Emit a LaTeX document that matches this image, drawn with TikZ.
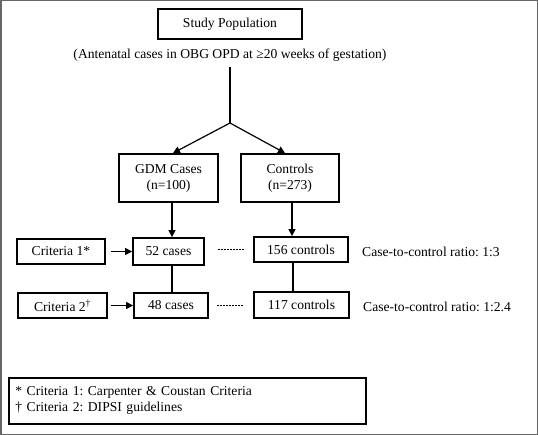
\documentclass[tikz,border=0pt]{standalone}
\usepackage{fontspec}
\setmainfont{Liberation Serif}
\usetikzlibrary{arrows.meta}
\definecolor{frame}{HTML}{666666}
\begin{document}
\frenchspacing
\begin{tikzpicture}[x=1pt,y=-1pt,
  box/.style={draw,line width=1.8pt,inner sep=0pt,align=center,font=\fontsize{13.6}{16}\selectfont},
  txt/.style={inner sep=0pt,font=\fontsize{13.6}{16}\selectfont},
  con/.style={line width=1.1pt},
  arr/.style={line width=1.2pt,-{Triangle[length=7pt,width=7pt]}},
  dsh/.style={line width=0.7pt,dash pattern=on 2pt off 1pt}]
\useasboundingbox (0,0) rectangle (538,435);
\draw[frame,line width=1.5pt] (0.75,0.75) rectangle (537.25,434.25);
\node[box,line width=2.2pt,minimum width=144pt,minimum height=30pt] (sp) at (230,24) {Study Population};
\node[txt] (sub) at (230,55) {(Antenatal cases in OBG OPD at ≥20 weeks of gestation)};
\coordinate (fork) at (230,123);
\node[box,minimum width=99pt,minimum height=48pt] (gdm) at (168.5,178) {GDM Cases\\(n=100)};
\node[box,minimum width=98pt,minimum height=48pt] (ctl) at (290,178) {Controls\\(n=273)};
\node[box,minimum width=88pt,minimum height=25pt] (c1) at (61,251.5) {Criteria 1*};
\node[box,minimum width=71pt,minimum height=27pt] (c52) at (168.5,251.5) {52 cases};
\node[box,minimum width=94pt,minimum height=25pt] (c156) at (301,249.5) {156 controls};
\node[txt,anchor=west] (r1) at (362,251.5) {Case-to-control ratio: 1:3};
\node[box,minimum width=89pt,minimum height=25pt] (c2) at (62.5,305.5) {Criteria 2\textsuperscript{†}};
\node[box,minimum width=74pt,minimum height=25pt] (c48) at (171,305.5) {48 cases};
\node[box,minimum width=95pt,minimum height=26pt] (c117) at (301.5,305) {117 controls};
\node[txt,anchor=west] (r2) at (363,306.5) {Case-to-control ratio: 1:2.4};
\node[box,minimum width=357pt,minimum height=46pt,align=left,anchor=north west,text width=344pt,inner xsep=6.5pt] (fn) at (8,377) {* Criteria 1: Carpenter \& Coustan Criteria\\† Criteria 2: DIPSI guidelines};
\draw[con] (sub.south -| fork) ++(0,6) -- (fork);
\draw[arr] (fork) -- (gdm.north -| 173,0);
\draw[arr] (fork) -- (ctl.north -| 285,0);
\draw[arr] (gdm.south -| 172,0) -- (c52.north -| 172,0);
\draw[arr] (ctl.south -| 292,0) -- (c156.north -| 292,0);
\draw[arr] (c1.east) ++(5,0) -- (c52.west);
\draw[arr] (c2.east) ++(3,0) -- (c48.west);
\draw[con] (c52.south -| 172,0) -- (c48.north -| 172,0);
\draw[con] (c156.south -| 293,0) -- (c117.north -| 293,0);
\draw[dsh] (218,249) -- (245,249);
\draw[dsh] (217,305) -- (243,305);
\end{tikzpicture}
\end{document}
